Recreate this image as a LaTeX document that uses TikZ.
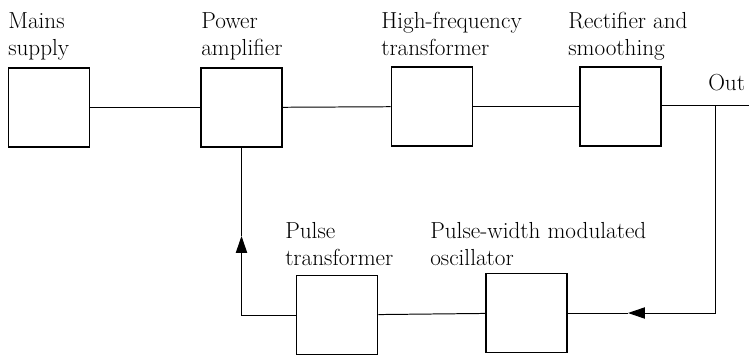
\documentclass[tikz,border=0pt]{standalone}
\usepackage{fontspec}
\usepackage{tikz}
\usetikzlibrary{arrows.meta,positioning}

\begin{document}
\begin{tikzpicture}[x=0.025cm, y=-0.025cm,
    blk/.style={draw, line width=1.3pt, minimum width=81*0.025cm, minimum height=79*0.025cm, inner sep=0pt},
    lbl/.style={font=\fontsize{16.5}{19}\selectfont, align=left, inner sep=0pt, anchor=base west},
    wire/.style={line width=0.7pt},
    fb/.style={wire, -{Triangle[length=12pt, width=8pt]}}]
    \useasboundingbox (0,0) rectangle (749,355);
    % forward path
    \node[blk] (mains) at (49,107.5) {};
    \node[blk] (pamp) at (241.5,107.5) {};
    \node[blk] (hft) at (432,106.5) {};
    \node[blk] (rect) at (620.5,106.5) {};
    % feedback path
    \node[blk] (ptf) at (337,315) {};
    \node[blk] (pwm) at (526.5,313) {};
    \node[lbl] (mainsL) at (8,55) {Mains\\supply};
    \node[lbl] (pampL) at (201,55) {Power\\amplifier};
    \node[lbl] (hftL) at (381,55) {High-frequency\\transformer};
    \node[lbl] (rectL) at (568,55) {Rectifier and\\smoothing};
    \node[lbl] (outL) at (708,90) {Out};
    \node[lbl] (ptfL) at (285,265) {Pulse\\transformer};
    \node[lbl] (pwmL) at (430,265) {Pulse-width modulated\\oscillator};
    \coordinate (outj) at (715,105);
    \coordinate (outend) at (749,105);
    \coordinate (fbtip) at (628,313);
    \coordinate (uptip) at (241.5,236);
    \draw[wire] (mains) -- (pamp);
    \draw[wire] (pamp) -- (hft);
    \draw[wire] (hft) -- (rect);
    \draw[wire] (rect.east |- outj) -- (outend);
    \draw[fb] (outj) |- (fbtip);
    \draw[wire] (fbtip) -- (pwm.east);
    \draw[wire] (pwm) -- (ptf);
    \draw[fb] (ptf.west) -| (uptip);
    \draw[wire] (uptip) -- (pamp.south);
\end{tikzpicture}
\end{document}
